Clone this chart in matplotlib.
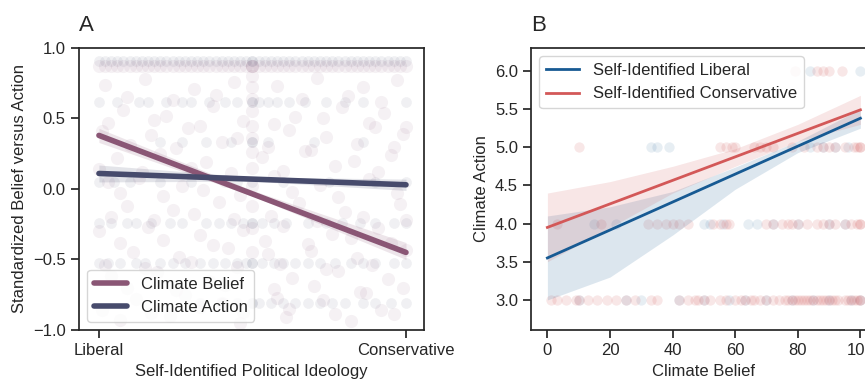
import matplotlib
matplotlib.use("Agg")
import matplotlib.pyplot as plt

# -------------------------------
# Panel A data (ideology 0 = Liberal, 1 = Conservative)
# -------------------------------
belief_x = [0.00, 0.02, 0.04, 0.06, 0.08, 0.10, 0.12, 0.14, 0.16, 0.18, 0.20, 0.22, 0.24, 0.26,
            0.28, 0.30, 0.32, 0.34, 0.36, 0.38, 0.40, 0.42, 0.44, 0.46, 0.48, 0.50, 0.50, 0.50,
            0.52, 0.54, 0.56, 0.58, 0.60, 0.62, 0.64, 0.66, 0.68, 0.70, 0.72, 0.74, 0.76, 0.78,
            0.80, 0.82, 0.84, 0.86, 0.88, 0.90, 0.92, 0.94, 0.96, 0.98, 1.00,
            0.50, 0.50, 0.50, 0.50, 0.50, 0.50, 0.50, 0.50, 0.50, 0.50, 0.50, 0.50,
            0.02, 0.15, 0.31, 0.44, 0.58, 0.71, 0.86, 0.97,
            0.09, 0.24, 0.38, 0.66, 0.81, 0.92,
            0.08, 0.22, 0.37, 0.64, 0.79, 0.93,
            0.03, 0.18, 0.33, 0.47, 0.57, 0.73, 0.88, 1.00,
            0.01, 0.17, 0.29, 0.45, 0.62, 0.74, 0.90, 0.99,
            0.10, 0.25, 0.40, 0.55, 0.69, 0.84, 0.96,
            0.06, 0.20, 0.35, 0.53, 0.67, 0.83, 0.95,
            0.00, 0.14, 0.30, 0.43, 0.60, 0.77, 0.91,
            0.03, 0.13, 0.27, 0.41, 0.57, 0.72, 0.88,
            0.07, 0.21, 0.34, 0.46, 0.63, 0.78, 0.97,
            0.09, 0.24, 0.39, 0.65, 0.80, 0.98,
            0.04, 0.18, 0.31, 0.44, 0.56, 0.71, 0.86, 1.00,
            0.00, 0.16, 0.33, 0.47, 0.60, 0.76, 0.91,
            0.07, 0.21, 0.37, 0.54, 0.68, 0.82, 0.95,
            0.11, 0.26, 0.42, 0.55, 0.69, 0.84, 1.00,
            0.02, 0.15, 0.30, 0.45, 0.59, 0.74, 0.89,
            0.04, 0.19, 0.36, 0.63, 0.78, 0.94,
            0.09, 0.25, 0.41, 0.57, 0.70, 0.85, 0.99,
            0.12, 0.28, 0.40, 0.58, 0.73, 0.87,
            0.01, 0.17, 0.33, 0.47, 0.62, 0.77, 0.92,
            0.07, 0.23, 0.46, 0.61, 0.82, 0.96]
belief_y = [0.875] * 53 + [
            0.80, 0.72, 0.64, 0.55, 0.45, 0.36, 0.26, 0.15, 0.02, -0.12, -0.28, -0.45,
            0.74, 0.78, 0.71, 0.76, 0.73, 0.79, 0.72, 0.77,
            0.65, 0.63, 0.67, 0.64, 0.66, 0.62,
            0.56, 0.52, 0.59, 0.51, 0.58, 0.54,
            0.47, 0.49, 0.45, 0.48, 0.46, 0.50, 0.47, 0.44,
            0.41, 0.38, 0.43, 0.36, 0.42, 0.37, 0.44, 0.39,
            0.31, 0.29, 0.33, 0.30, 0.28, 0.32, 0.30,
            0.22, 0.25, 0.19, 0.23, 0.27, 0.20, 0.24,
            0.14, 0.12, 0.15, 0.11, 0.13, 0.16, 0.12,
            0.05, 0.08, 0.02, 0.06, 0.09, 0.03, 0.07,
            -0.03, -0.05, -0.01, -0.04, -0.02, -0.06, -0.03,
            -0.12, -0.15, -0.09, -0.10, -0.16, -0.11,
            -0.20, -0.22, -0.18, -0.21, -0.19, -0.23, -0.20, -0.22,
            -0.30, -0.27, -0.33, -0.29, -0.26, -0.32, -0.28,
            -0.38, -0.36, -0.40, -0.37, -0.39, -0.35, -0.38,
            -0.45, -0.48, -0.42, -0.46, -0.44, -0.49, -0.43,
            -0.54, -0.56, -0.52, -0.55, -0.53, -0.57, -0.54,
            -0.62, -0.59, -0.65, -0.63, -0.58, -0.64,
            -0.70, -0.72, -0.68, -0.71, -0.69, -0.73, -0.70,
            -0.78, -0.75, -0.81, -0.77, -0.79, -0.74,
            -0.86, -0.88, -0.84, -0.87, -0.85, -0.89, -0.86,
            -0.93, -0.90, -0.95, -0.91, -0.94, -0.89]

action_levels = [0.91, 0.62, 0.335, 0.05, -0.24, -0.525, -0.81]
action_rows = [
    [0.00, 0.02, 0.04, 0.06, 0.08, 0.10, 0.12, 0.14, 0.16, 0.18, 0.20, 0.22, 0.24, 0.26, 0.28,
     0.30, 0.32, 0.34, 0.36, 0.38, 0.40, 0.42, 0.44, 0.46, 0.48, 0.50, 0.50, 0.52, 0.54, 0.56,
     0.58, 0.60, 0.62, 0.64, 0.66, 0.68, 0.70, 0.72, 0.74, 0.76, 0.78, 0.80, 0.82, 0.84, 0.86,
     0.88, 0.90, 0.92, 0.94, 0.96, 0.98, 1.00],
    [0.00, 0.06, 0.13, 0.16, 0.22, 0.27, 0.30, 0.36, 0.41, 0.45, 0.50, 0.50, 0.52, 0.55, 0.58,
     0.62, 0.67, 0.74, 0.80, 0.86, 1.00],
    [0.20, 0.27, 0.35, 0.43, 0.50, 0.50, 0.55, 0.70, 0.86],
    [0.00, 0.05, 0.10, 0.20, 0.30, 0.45, 0.50, 0.60, 0.75, 0.90, 1.00],
    [0.00, 0.04, 0.09, 0.12, 0.17, 0.23, 0.27, 0.35, 0.39, 0.43, 0.47, 0.50, 0.50, 0.53, 0.57,
     0.61, 0.68, 0.74, 0.79, 0.85, 0.90, 0.96, 1.00],
    [0.00, 0.03, 0.07, 0.12, 0.15, 0.20, 0.24, 0.28, 0.33, 0.37, 0.41, 0.45, 0.48, 0.50, 0.50,
     0.53, 0.57, 0.60, 0.64, 0.68, 0.72, 0.77, 0.82, 0.86, 0.90, 0.96, 1.00],
    [0.33, 0.40, 0.45, 0.50, 0.50, 0.52, 0.56, 0.60, 0.64, 0.68, 0.72, 0.76, 0.80, 0.86, 0.90,
     0.95, 1.00],
]

ideology_pts = [0.0, 0.5, 1.0]
belief_fit = [0.38, -0.035, -0.45]
belief_lo = [0.33, -0.05, -0.50]
belief_hi = [0.43, -0.01, -0.38]
action_fit = [0.11, 0.07, 0.03]
action_lo = [0.05, 0.055, -0.01]
action_hi = [0.17, 0.085, 0.07]

# -------------------------------
# Panel B data (Climate Belief 0..100 vs Climate Action 3..6)
# -------------------------------
lib_levels = [6.0, 5.0, 4.0, 3.0]
lib_rows = [
    [84, 100],
    [33, 35, 39, 84, 88, 92, 96],
    [15, 22, 50, 52, 56, 64, 67, 72, 80, 90, 95],
    [10, 25, 30, 42, 50, 58, 63, 70, 78, 85, 90, 97, 100],
]
con_levels = [6.0, 5.0, 4.0, 3.0]
con_rows = [
    [79, 86, 88, 90, 94],
    [10, 55, 57, 59, 60, 66, 68, 70, 72, 78, 82, 86, 88, 90, 92, 95, 98, 99, 100, 100],
    [3, 17, 32, 35, 38, 40, 42, 45, 53, 55, 57, 58, 70, 72, 75, 77, 78, 80, 83, 86, 88, 90,
     92, 95, 97, 99, 100, 100],
    [1, 3, 6, 9, 10, 13, 16, 19, 22, 25, 28, 33, 35, 42, 45, 47, 48, 50, 52, 55, 57, 60, 62,
     63, 65, 66, 68, 70, 72, 74, 76, 77, 78, 79, 80, 81, 82, 83, 84, 85, 86, 87, 88, 89, 90,
     91, 92, 93, 95, 96, 97, 98, 99, 100, 100],
]

belief_pts = [0, 20, 40, 60, 80, 100]
lib_fit = [3.55, 3.916, 4.282, 4.648, 5.014, 5.38]
lib_lo = [3.00, 3.30, 3.85, 4.45, 4.93, 5.25]
lib_hi = [4.10, 4.22, 4.42, 4.74, 5.08, 5.50]
con_fit = [3.95, 4.258, 4.566, 4.874, 5.182, 5.49]
con_lo = [3.50, 3.95, 4.40, 4.75, 5.08, 5.30]
con_hi = [4.40, 4.55, 4.75, 4.98, 5.30, 5.68]

# -------------------------------
# style
# -------------------------------
plt.rcParams['font.family'] = ['Liberation Sans', 'DejaVu Sans']
plt.rcParams['font.size'] = 12
plt.rcParams['axes.edgecolor'] = '.15'
plt.rcParams['axes.linewidth'] = 1.25
plt.rcParams['text.color'] = '.15'
plt.rcParams['axes.labelcolor'] = '.15'
plt.rcParams['xtick.color'] = '.15'
plt.rcParams['ytick.color'] = '.15'
plt.rcParams['xtick.major.size'] = 6
plt.rcParams['ytick.major.size'] = 6
plt.rcParams['xtick.major.width'] = 1.25
plt.rcParams['ytick.major.width'] = 1.25

c_belief = '#8a5675'
c_action = '#474b6c'
c_lib = '#175a93'
c_con = '#d35858'

fig = plt.figure(figsize=(8.65, 3.81), dpi=100)
axA = fig.add_axes([0.0913, 0.134, 0.399, 0.740])
axB = fig.add_axes([0.614, 0.134, 0.3995, 0.740])

# -------------------------------
# Panel A
# -------------------------------
axA.scatter(belief_x, belief_y, s=90, color=c_belief, alpha=0.08, linewidths=0, zorder=1)
for lvl, xs in zip(action_levels, action_rows):
    axA.scatter(xs, [lvl] * len(xs), s=60, color=c_action, alpha=0.08, linewidths=0, zorder=1)

axA.fill_between(ideology_pts, belief_lo, belief_hi, color=c_belief, alpha=0.15, linewidth=0, zorder=2)
axA.fill_between(ideology_pts, action_lo, action_hi, color=c_action, alpha=0.15, linewidth=0, zorder=2)
axA.plot(ideology_pts, belief_fit, color=c_belief, lw=4, solid_capstyle='round', label='Climate Belief', zorder=3)
axA.plot(ideology_pts, action_fit, color=c_action, lw=4, solid_capstyle='round', label='Climate Action', zorder=3)

axA.set_xlim(-0.065, 1.059)
axA.set_ylim(-1.0, 1.0)
axA.set_xticks([0, 1])
axA.set_xticklabels(['Liberal', 'Conservative'])
axA.set_yticks([-1.0, -0.5, 0.0, 0.5, 1.0])
axA.set_xlabel('Self-Identified Political Ideology')
axA.set_ylabel('Standardized Belief versus Action')
axA.set_title('A', loc='left', fontsize=16, pad=12)
axA.legend(loc='lower left', fontsize=12)

# -------------------------------
# Panel B
# -------------------------------
for lvl, xs in zip(lib_levels, lib_rows):
    axB.scatter(xs, [lvl] * len(xs), s=55, color=c_lib, alpha=0.1, linewidths=0, zorder=1)
for lvl, xs in zip(con_levels, con_rows):
    axB.scatter(xs, [lvl] * len(xs), s=55, color=c_con, alpha=0.14, linewidths=0, zorder=1)

axB.fill_between(belief_pts, lib_lo, lib_hi, color=c_lib, alpha=0.15, linewidth=0, zorder=2)
axB.fill_between(belief_pts, con_lo, con_hi, color=c_con, alpha=0.15, linewidth=0, zorder=2)
axB.plot(belief_pts, lib_fit, color=c_lib, lw=2, label='Self-Identified Liberal', zorder=3)
axB.plot(belief_pts, con_fit, color=c_con, lw=2, label='Self-Identified Conservative', zorder=3)

axB.set_xlim(-5.2, 105.2)
axB.set_ylim(2.607, 6.30)
axB.set_xticks([0, 20, 40, 60, 80, 100])
axB.set_yticks([3.0, 3.5, 4.0, 4.5, 5.0, 5.5, 6.0])
axB.set_yticklabels(['3.0', '3.5', '4.0', '4.5', '5.0', '5.5', '6.0'])
axB.set_xlabel('Climate Belief')
axB.set_ylabel('Climate Action')
axB.set_title('B', loc='left', fontsize=16, pad=12)
axB.legend(loc='upper left', fontsize=12)

fig.savefig('out.png', dpi=100)
